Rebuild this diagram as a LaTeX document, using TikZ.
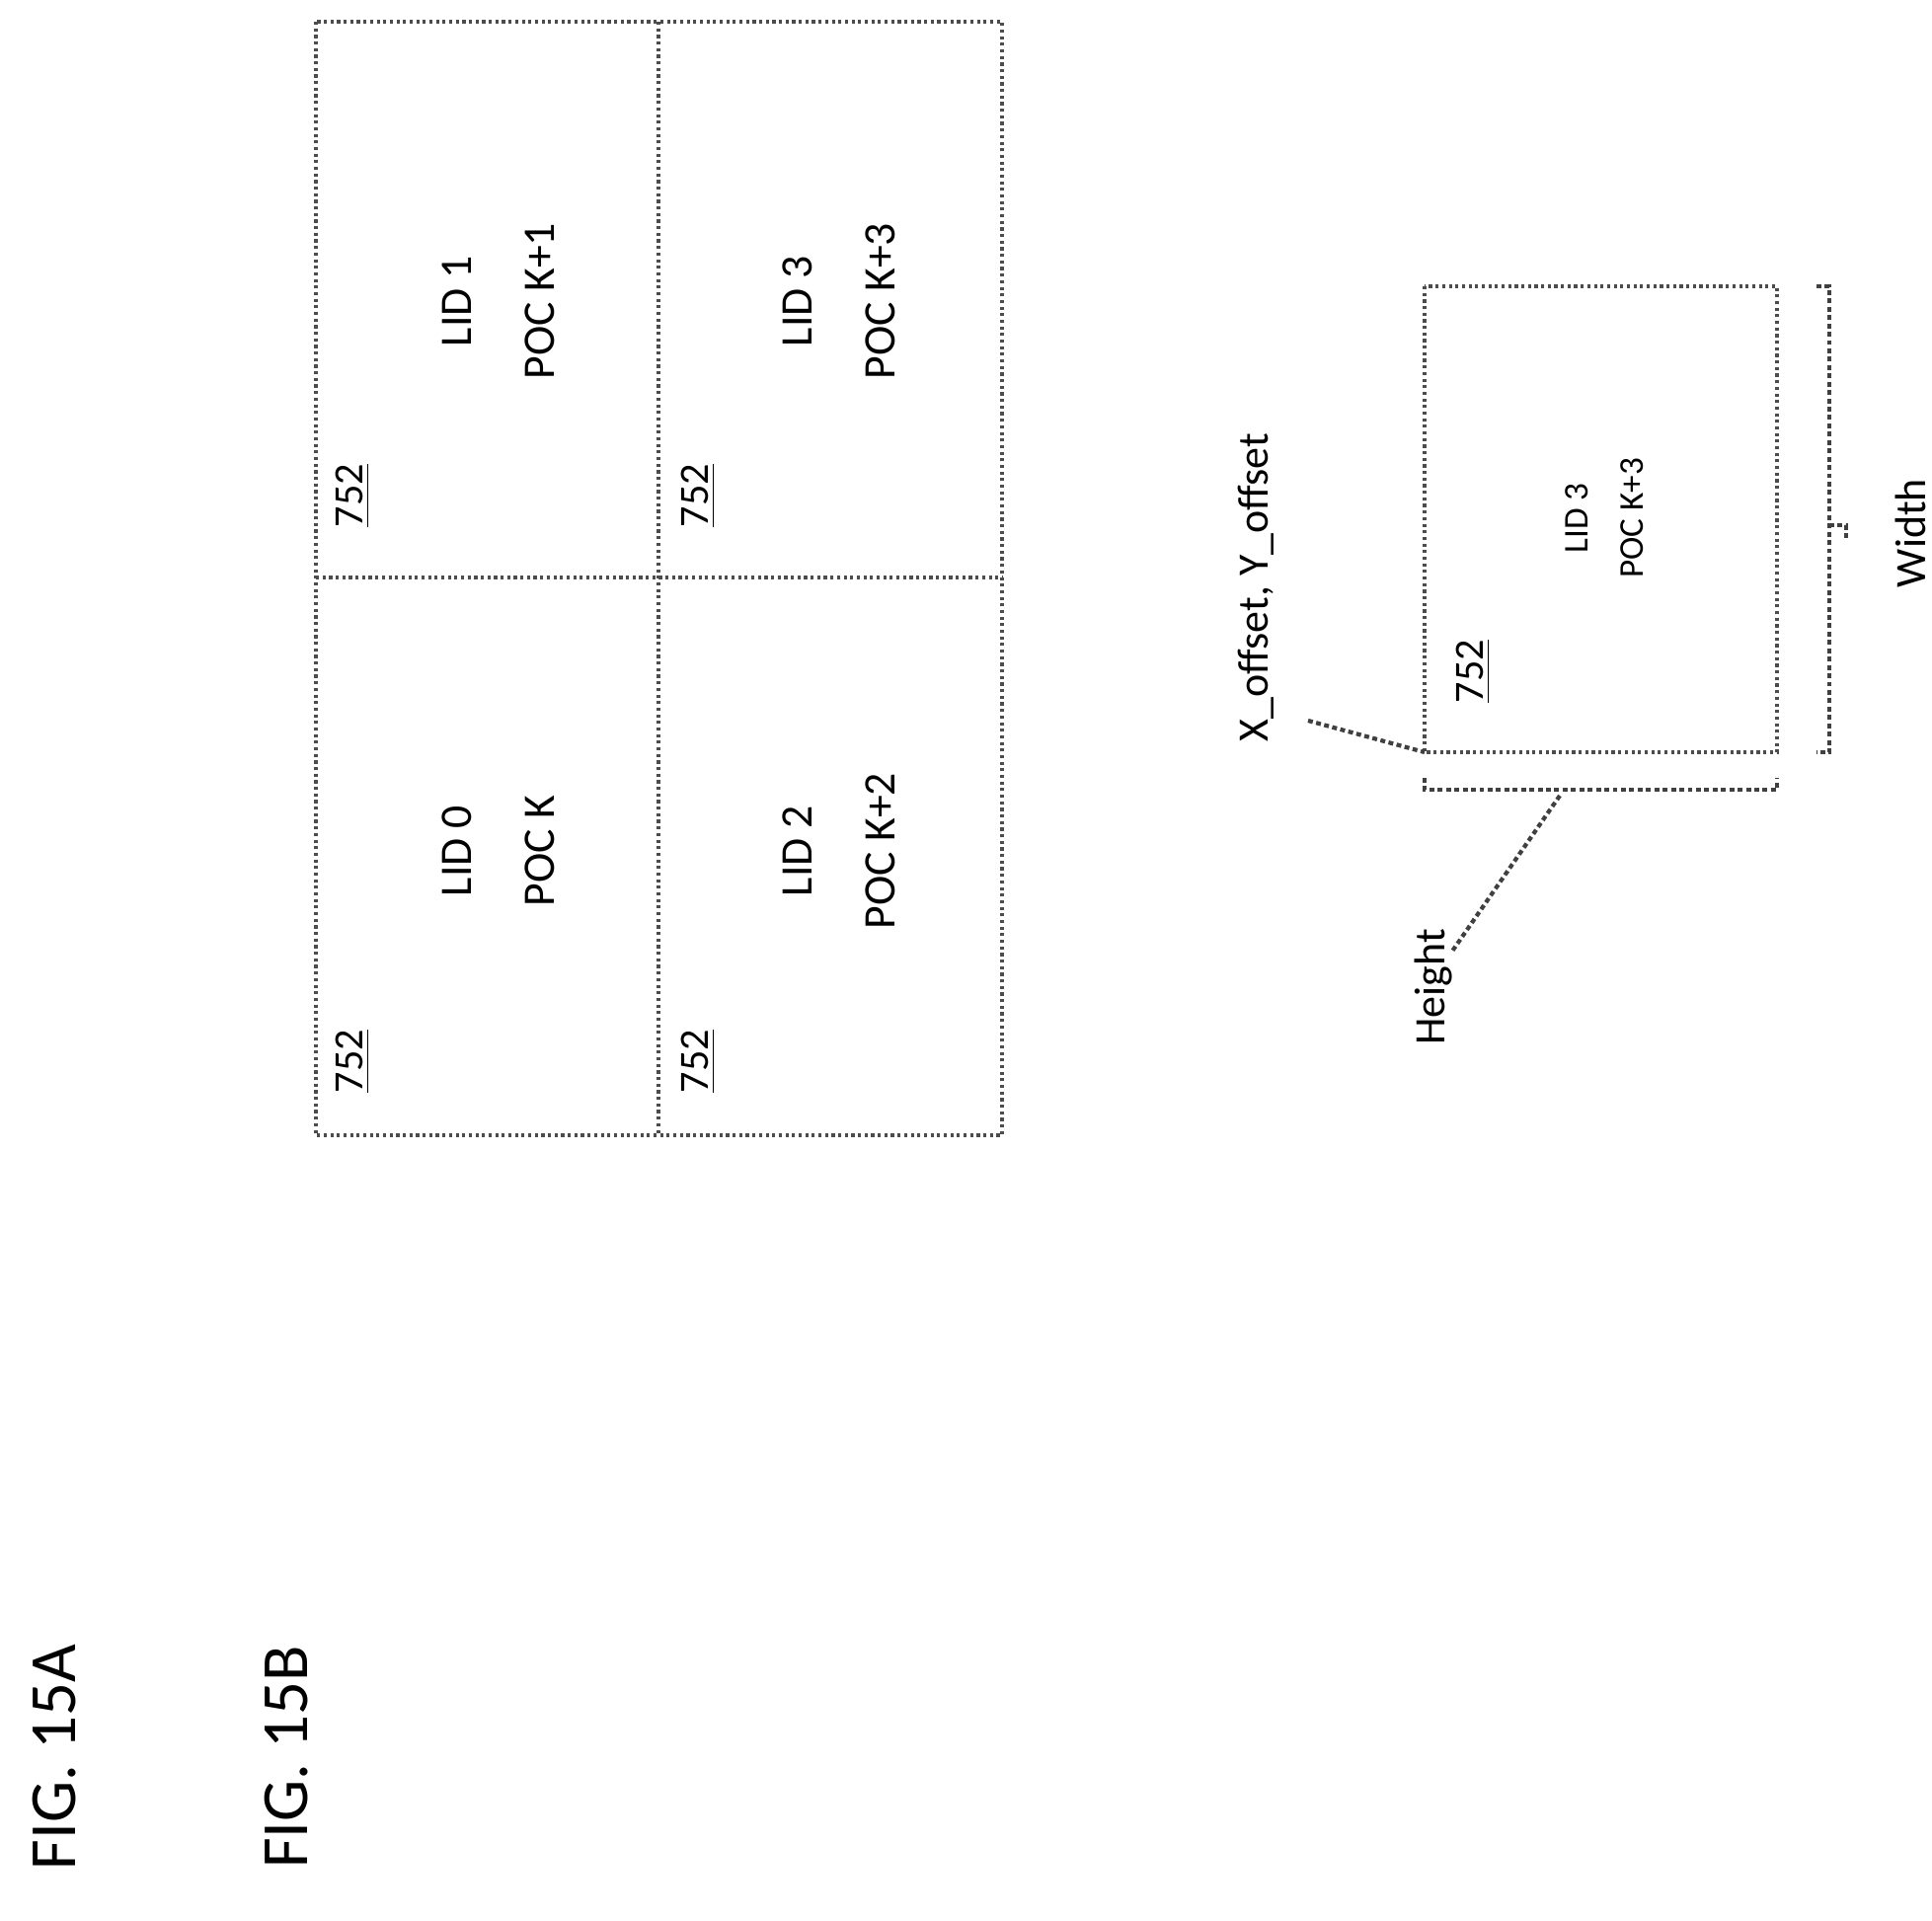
\documentclass[tikz,border=0pt]{standalone}
\usepackage{fontspec}
\setmainfont{Carlito}
\begin{document}
\begin{tikzpicture}[x=0.01cm,y=-0.01cm,
  ln/.style={draw=black!70,line width=0.9pt,densely dotted},
  br/.style={draw=black!75,line width=1.4pt,densely dotted},
  lbl/.style={rotate=90,align=center,font=\fontsize{13}{24}\selectfont},
  sml/.style={rotate=90,align=center,font=\fontsize{10}{16}\selectfont},
  num/.style={rotate=90,font=\fontsize{12}{14}\selectfont}]
\useasboundingbox (0,0) rectangle (1957,1946);
% Fig 15A
\draw[ln] (320,22) rectangle (1015,1150);
\draw[ln] (667,22) -- (667,1150);
\draw[ln] (320,585) -- (1015,585);
\node[lbl] (c0) at (505,862) {LID 0\\POC K};
\node[lbl] (c1) at (505,305) {LID 1\\POC K+1};
\node[lbl] (c2) at (850,862) {LID 2\\POC K+2};
\node[lbl] (c3) at (850,305) {LID 3\\POC K+3};
\node[num] (n0) at (357,1075) {\underline{752}};
\node[num] (n1) at (357,502) {\underline{752}};
\node[num] (n2) at (707,1075) {\underline{752}};
\node[num] (n3) at (707,502) {\underline{752}};
\node[rotate=90,font=\fontsize{19}{20}\selectfont] (fa) at (55,1780) {FIG. 15A};
\node[rotate=90,font=\fontsize{19}{20}\selectfont] (fb) at (290,1780) {FIG. 15B};
% Fig 15B
\draw[ln] (1443,290) rectangle (1800,762);
\coordinate (corner) at (1443,762);
\node[sml] (b3) at (1625,525) {LID 3\\POC K+3};
\node[num] (bn) at (1492,680) {\underline{752}};
\node[rotate=90,font=\fontsize{12.5}{14}\selectfont] (xo) at (1272,595) {X\_offset, Y\_offset};
\draw[br,line width=1.2pt] (1325,730) -- (corner);
% height bracket
\draw[br] (1443,788) -- (1443,800) -- (1800,800) -- (1800,788);
\coordinate (hm) at (1580,806);
\node[rotate=90,font=\fontsize{12.5}{14}\selectfont] (ht) at (1452,1000) {Height};
\draw[br,line width=1.2pt] (hm) -- (1470,965);
% width bracket
\draw[br] (1840,290) -- (1853,290) -- (1853,762) -- (1840,762);
\coordinate (wm) at (1853,532);
\node[rotate=90,font=\fontsize{12.5}{14}\selectfont] (wd) at (1935,540) {Width};
\draw[br] (wm) -- (1870,532) -- (1870,548);
\end{tikzpicture}
\end{document}
